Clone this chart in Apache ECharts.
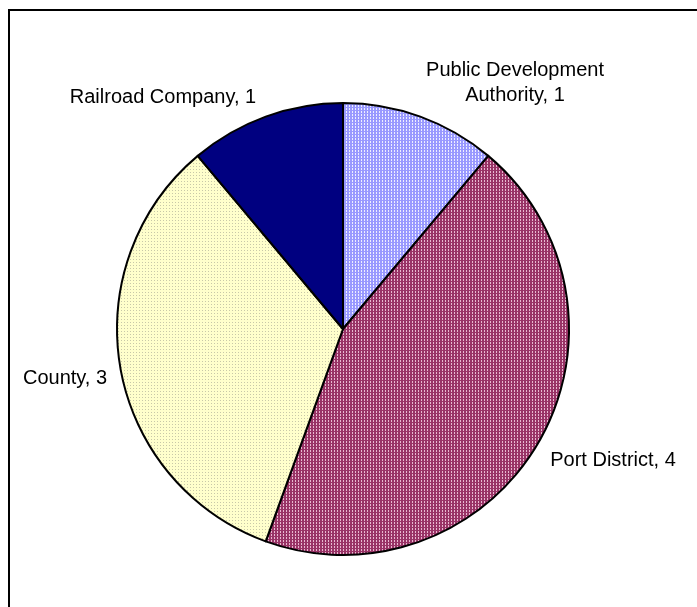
<!DOCTYPE html>
<html>
<head>
<meta charset="utf-8">
<script src="https://cdn.jsdelivr.net/npm/echarts@6/dist/echarts.min.js"></script>
<style>
  html, body { margin: 0; padding: 0; background: #fff; }
  #main { width: 697px; height: 607px; }
</style>
</head>
<body>
<div id="main"></div>
<script>
// data
var categories = ['Public Development\nAuthority', 'Port District', 'County', 'Railroad Company'];
var values = [1, 4, 3, 1];

// dotted fills like the old office patterns
function dots(base, dot, two) {
    var c = document.createElement('canvas');
    c.width = 3;
    c.height = 3;
    var ctx = c.getContext('2d');
    ctx.fillStyle = base;
    ctx.fillRect(0, 0, 3, 3);
    ctx.fillStyle = dot;
    ctx.fillRect(1, 1, 1, 1);
    if (two) ctx.fillRect(1, 0, 1, 1);
    return { image: c, repeat: 'repeat' };
}

var fills = [
    dots('#9999ff', '#eeeeff', true),
    dots('#993366', '#e8b8d0', true),
    dots('#ffffcc', '#c8c8a8'),
    '#000080'
];

// where each label sits
var labelPos = [
    { x: 515, y: 83 },
    { x: 613, y: 460 },
    { x: 65, y: 378 },
    { x: 163, y: 97 }
];

var myChart = echarts.init(document.getElementById('main'));

var option = {
    animation: false,
    backgroundColor: '#fff',
    graphic: [{
        type: 'rect',
        shape: { x: 9, y: 10, width: 760, height: 700 },
        style: { fill: 'none', stroke: '#000', lineWidth: 2 }
    }],
    series: [{
        type: 'pie',
        center: [343, 329],
        radius: 226,
        startAngle: 90,
        clockwise: true,
        itemStyle: {
            borderColor: '#000',
            borderWidth: 2
        },
        label: {
            show: true,
            formatter: function (p) { return p.name + ', ' + p.value; },
            fontFamily: 'Liberation Sans, Arial, sans-serif',
            fontSize: 20,
            lineHeight: 25,
            color: '#000',
            align: 'center',
            overflow: 'none'
        },
        labelLine: { show: false },
        labelLayout: function (params) {
            var p = labelPos[params.dataIndex];
            return { x: p.x, y: p.y, align: 'center', verticalAlign: 'middle' };
        },
        data: categories.map(function (name, i) {
            return { name: name, value: values[i], itemStyle: { color: fills[i] } };
        })
    }]
};

myChart.setOption(option);
</script>
</body>
</html>
